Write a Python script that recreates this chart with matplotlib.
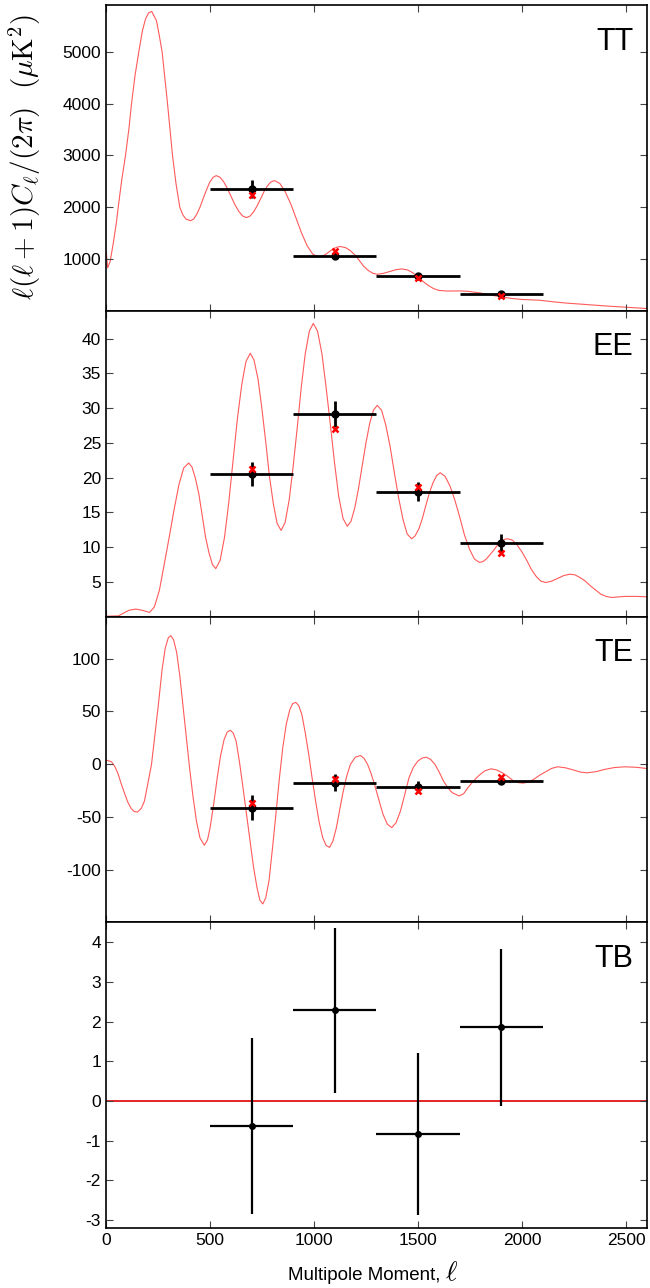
import numpy as np
import matplotlib
matplotlib.use('Agg')
import matplotlib.pyplot as plt

# ================================
# Data
# ================================
# theory curves: multipole and D_ell values
tt_ell = [2, 8, 20, 35, 50, 59, 75, 94, 110, 123, 140, 158, 175, 190, 205, 220,
          243, 257, 270, 283, 296, 308, 320, 337, 355, 370, 385, 407,
          422, 437, 453, 468, 484, 499, 515, 530,
          548, 566, 584, 602, 620, 639, 657, 675,
          692, 709, 726, 743, 759, 776, 793, 810,
          836, 862, 889, 915, 941, 967, 994, 1020,
          1040, 1060, 1080, 1100, 1115, 1130,
          1152, 1174, 1196, 1218, 1239, 1261, 1283, 1305,
          1335, 1365, 1395, 1422, 1450, 1475, 1500, 1525, 1550, 1575, 1600,
          1640, 1700, 1740, 1800, 1850, 1900, 1950, 2000, 2085, 2150, 2213,
          2300, 2400, 2500, 2600]
tt_cl = [1120, 830, 950, 1300, 1700, 2000, 2500, 3000, 3500, 4000, 4550, 5000, 5400, 5630, 5750, 5780,
         5600, 5300, 5000, 4500, 4000, 3500, 3000, 2450, 2000, 1850, 1770, 1740,
         1773, 1867, 2009, 2175, 2341, 2483, 2577, 2610,
         2579, 2491, 2360, 2205, 2050, 1919, 1831, 1800,
         1827, 1904, 2021, 2158, 2294, 2411, 2488, 2515,
         2459, 2297, 2059, 1778, 1497, 1259, 1096, 1040,
         1055, 1100, 1160, 1210, 1235, 1240,
         1220, 1165, 1083, 973, 862, 780, 725, 705,
         725, 760, 795, 810, 790, 735, 650, 565, 490, 430, 395,
         382, 385, 378, 345, 305, 270, 240, 220, 205, 175, 150,
         125, 95, 70, 45]

ee_ell = [2, 60, 85, 110, 143, 175, 210,
          233, 257, 280, 304, 327, 351, 374, 398,
          414, 430, 447, 463, 479, 496, 512, 528,
          549, 570, 590, 611, 632, 653, 673, 694,
          712, 731, 749, 768, 786, 805, 823, 842,
          861, 881, 900, 920, 939, 958, 978, 997,
          1017, 1038, 1058, 1079, 1099, 1119, 1140, 1160,
          1178, 1196, 1214, 1232, 1250, 1268, 1286, 1304,
          1325, 1345, 1366, 1386, 1407, 1428, 1448, 1469,
          1486, 1504, 1521, 1538, 1555, 1573, 1590, 1607,
          1630, 1654, 1677, 1701, 1724, 1748, 1771, 1795,
          1812, 1829, 1846, 1863, 1880, 1897, 1914, 1931,
          1954, 1977, 2000, 2023, 2045, 2068, 2091, 2114,
          2143, 2172, 2201, 2230,
          2255, 2280, 2305, 2330, 2355, 2380, 2405, 2430,
          2496, 2550, 2600]
ee_cl = [0.05, 0.1, 0.5, 0.9, 1.08, 0.9, 0.6,
         1.4, 3.8, 7.5, 11.4, 15.3, 19.0, 21.4, 22.1,
         21.5, 19.9, 17.6, 14.5, 11.4, 9.1, 7.5, 6.9,
         8.1, 11.4, 16.3, 22.4, 28.5, 33.4, 36.7, 37.9,
         36.9, 34.2, 30.1, 25.2, 20.2, 16.2, 13.4, 12.4,
         13.5, 16.8, 21.6, 27.3, 33.0, 37.8, 41.1, 42.2,
         41.1, 37.9, 33.1, 27.6, 22.1, 17.3, 14.1, 13.0,
         13.7, 15.6, 18.4, 21.7, 25.0, 27.8, 29.7, 30.4,
         29.7, 27.6, 24.5, 20.8, 17.1, 14.0, 11.9, 11.2,
         11.6, 12.6, 14.1, 16.0, 17.8, 19.3, 20.3, 20.7,
         20.2, 18.8, 16.8, 14.3, 11.7, 9.7, 8.3, 7.8,
         7.9, 8.3, 8.9, 9.5, 10.2, 10.7, 11.1, 11.2,
         11.0, 10.3, 9.3, 8.1, 6.8, 5.8, 5.1, 4.9,
         5.1, 5.5, 5.9, 6.1,
         6.0, 5.6, 5.1, 4.4, 3.8, 3.2, 2.9, 2.75,
         2.9, 2.9, 2.85]

te_ell = [2, 15, 27, 42, 58, 74, 90, 105, 121, 136, 152, 170,
          185, 200, 219, 235, 252, 270, 285, 300, 312,
          325, 340, 355, 368, 385, 402, 418, 435, 452, 473,
          488, 501, 518, 535, 551, 568, 583, 598,
          612, 626, 642, 659, 676, 692, 709, 726, 740, 754,
          768, 784, 800, 817, 833, 850, 867, 884, 898, 913,
          927, 942, 958, 975, 991, 1008, 1025, 1042, 1058, 1075,
          1091, 1108, 1124, 1141, 1158, 1175, 1199, 1224,
          1241, 1258, 1274, 1291, 1311, 1332, 1353, 1374,
          1395, 1416, 1437, 1457, 1478, 1499, 1520, 1540,
          1561, 1582, 1602, 1623, 1644, 1665, 1698,
          1720, 1740, 1765, 1790, 1820, 1851,
          1878, 1906, 1931, 1956, 1981, 2006,
          2031, 2056, 2085, 2114, 2143, 2172,
          2210, 2247, 2280, 2313, 2355, 2397, 2445, 2496, 2550, 2600]
te_cl = [3.8, 3.0, 2.2, -2, -9, -19, -28, -36, -42, -45, -45.4, -42,
         -35, -20, -0.3, 27, 56.4, 90, 110, 120, 121.9,
         118, 106, 84, 59.5, 28, -3.5, -30, -53.9, -70, -76.9,
         -72, -60, -38, -12.9, 8, 23.3, 30.5, 32.1,
         29.5, 21.7, 2, -22.4, -48, -72.8, -97, -116.9, -129, -132.6,
         -127, -110.5, -81, -47.6, -15, 15.4, 38, 51.7, 57.5, 58.6,
         55.5, 46.9, 30, 9.1, -13, -35, -55, -69.6, -77, -79,
         -73, -60.2, -43, -25.5, -11, -0.3, 6.6, 8.2,
         5.5, -0.3, -8.5, -19.2, -33, -47.6, -57, -60.2,
         -55.5, -44.4, -28.5, -12.9, -3, 2.8, 5.8, 6.6,
         4.5, -0.3, -7.5, -16.1, -22.5, -27.1, -30.2,
         -28, -22.4, -16.5, -11.3, -6.5, -4.4,
         -5.5, -8.2, -11.5, -15.4, -17.5, -18,
         -17, -14.5, -10.5, -7.2, -4.0, -2.5,
         -3.5, -5.5, -7.5, -8.2, -7.2, -5.0, -3.2, -2.5, -3.0, -4.1]

# band powers
bin_ell = [700, 1100, 1500, 1900]
bin_half_width = [200, 200, 200, 200]

tt_data = [2355, 1060, 672, 324]
tt_err = [170, 40, 30, 20]
tt_model = [2235, 1160, 630, 290]

ee_data = [20.5, 29.2, 18.0, 10.6]
ee_err = [1.7, 1.85, 1.4, 1.25]
ee_model = [21.2, 27.0, 18.6, 9.1]

te_data = [-41.3, -17.6, -21.8, -15.8]
te_err = [11.7, 8.0, 5.5, 3.0]
te_model = [-36.6, -14.0, -25.6, -12.3]

tb_data = [-0.64, 2.28, -0.84, 1.85]
tb_err = [2.22, 2.07, 2.04, 1.98]

plt.rcParams['font.family'] = ['Liberation Sans', 'DejaVu Sans']
plt.rcParams['mathtext.fontset'] = 'cm'
plt.rcParams['axes.unicode_minus'] = False

fig, axes = plt.subplots(4, 1, figsize=(6.5, 12.88), dpi=100, sharex=True)
fig.subplots_adjust(left=0.163, right=0.995, top=0.996, bottom=0.0466, hspace=0)

curve_color = '#ff5a5a'

panels = [
    ('TT', tt_ell, tt_cl, tt_data, tt_err, tt_model, (0, 5900), [1000, 2000, 3000, 4000, 5000]),
    ('EE', ee_ell, ee_cl, ee_data, ee_err, ee_model, (0, 44), [5, 10, 15, 20, 25, 30, 35, 40]),
    ('TE', te_ell, te_cl, te_data, te_err, te_model, (-150, 140), [-100, -50, 0, 50, 100]),
]

for ax, (name, ell, cl, data, err, model, ylim, yticks) in zip(axes[:3], panels):
    ax.plot(ell, cl, color=curve_color, linewidth=0.8, zorder=1)
    ax.errorbar(bin_ell, data, xerr=bin_half_width, yerr=err, fmt='o', color='black',
                markersize=5, elinewidth=2, capsize=0, zorder=2)
    ax.plot(bin_ell, model, 'x', color='red', markersize=5, markeredgewidth=1.8, zorder=3)
    ax.set_ylim(*ylim)
    ax.set_yticks(yticks)
    ax.text(0.975, 0.93, name, transform=ax.transAxes, ha='right', va='top', fontsize=22)

# TB panel
ax = axes[3]
ax.axhline(0, color='#dd0000', linewidth=1.2, zorder=1)
ax.errorbar(bin_ell, tb_data, xerr=bin_half_width, yerr=tb_err, fmt='o', color='black',
            markersize=4, elinewidth=1.6, capsize=0, zorder=2)
ax.set_ylim(-3.2, 4.5)
ax.set_yticks([-3, -2, -1, 0, 1, 2, 3, 4])
ax.text(0.975, 0.93, 'TB', transform=ax.transAxes, ha='right', va='top', fontsize=22)

for ax in axes:
    ax.set_xlim(0, 2600)
    ax.set_xticks([0, 500, 1000, 1500, 2000, 2500])
    ax.tick_params(direction='in', top=True, right=True, length=5, width=0.8,
                   labelsize=12.5, color='#444444')
    for sp in ax.spines.values():
        sp.set_linewidth(1.2)

# x label, with a larger script ell
fig.text(440 / 650, 0.006, 'Multipole Moment,', ha='right', va='baseline', fontsize=13.5)
fig.text(445 / 650, 0.006, r'$\ell$', ha='left', va='baseline', fontsize=20)
fig.text(0.038, 0.878, r'$\ell(\ell+1)C_\ell/(2\pi)\ \ (\mu\mathrm{K}^2)$',
         rotation=90, ha='center', va='center', fontsize=21)

fig.savefig('out.png', dpi=100)
